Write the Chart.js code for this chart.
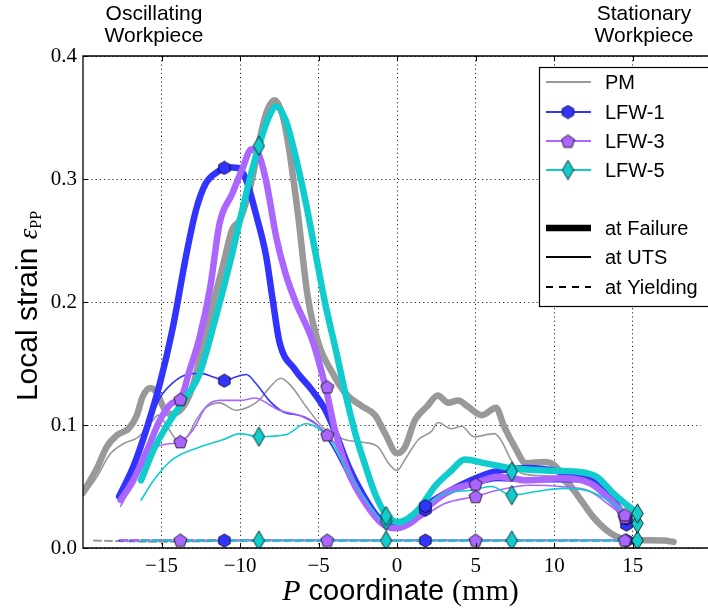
<!DOCTYPE html>
<html>
<head>
<meta charset="utf-8">
<script src="https://cdn.jsdelivr.net/npm/chart.js@4.4.0/dist/chart.umd.min.js"></script>
<style>
  html, body { margin: 0; padding: 0; background: #fff; }
  canvas { display: block; }
</style>
</head>
<body>
<canvas id="strain-chart" width="708" height="611"></canvas>
<script>
// axis ticks
const xTicks = [-15, -10, -5, 0, 5, 10, 15];
const yTicks = [0, 0.1, 0.2, 0.3, 0.4];

// PM (parent material)
const pmFailX = [-20.0, -19.1, -18.5, -17.8, -17.1, -16.6, -16.2, -15.7, -15.3, -14.9, -14.5, -13.8, -13.0, -12.4, -11.9, -11.1, -10.5, -10.0, -9.2, -8.8, -8.35, -7.8, -7.3, -6.9, -6.3, -5.7, -5.0, -4.1, -3.3, -2.2, -1.4, -0.76, 0, 0.5, 1.14, 1.9, 2.6, 3.25, 3.9, 4.5, 5.4, 6.3, 6.8, 7.5, 8.2, 9.4, 10.0, 10.8, 11.7, 12.5, 13.6, 14.6, 17.0, 17.6];
const pmFailY = [0.045, 0.065, 0.082, 0.092, 0.097, 0.107, 0.123, 0.130, 0.126, 0.115, 0.109, 0.112, 0.132, 0.163, 0.190, 0.229, 0.259, 0.267, 0.302, 0.329, 0.353, 0.364, 0.352, 0.326, 0.270, 0.205, 0.166, 0.142, 0.126, 0.115, 0.108, 0.093, 0.077, 0.082, 0.104, 0.115, 0.124, 0.118, 0.120, 0.115, 0.108, 0.114, 0.099, 0.082, 0.069, 0.070, 0.0675, 0.055, 0.039, 0.025, 0.012, 0.007, 0.006, 0.005];
const pmUtsX = [-20.0, -19.1, -18.3, -17.4, -16.5, -15.6, -15.2, -14.6, -14.0, -13.4, -12.8, -12.2, -11.3, -10.25, -9.4, -8.8, -8.15, -7.4, -6.7, -5.8, -4.56, -3.3, -2.2, -1.2, -0.55, 0, 0.5, 1.35, 2.2, 2.6, 3.46, 4.1, 4.9, 6.2, 6.6, 7.26, 7.9, 8.9, 10.0, 11.05, 12.1, 13.4, 14.6];
const pmUtsY = [0.042, 0.058, 0.076, 0.085, 0.090, 0.103, 0.108, 0.098, 0.088, 0.090, 0.104, 0.114, 0.118, 0.112, 0.115, 0.120, 0.130, 0.138, 0.131, 0.115, 0.096, 0.088, 0.086, 0.082, 0.069, 0.063, 0.072, 0.088, 0.095, 0.102, 0.097, 0.099, 0.0905, 0.093, 0.088, 0.0715, 0.061, 0.059, 0.058, 0.047, 0.031, 0.015, 0.008];
const pmYieldX = [-19.3, -15, -10, -5, 0, 5, 10, 15, 17.6];
const pmYieldY = [0.006, 0.005, 0.006, 0.006, 0.006, 0.006, 0.006, 0.006, 0.006];

// LFW-1
const lfw1FailX = [-17.7, -16.8, -15.9, -15.1, -14.3, -13.4, -12.8, -12.2, -11.3, -10.95, -10.1, -9.6, -9.0, -8.35, -7.9, -7.5, -6.5, -5.4, -4.56, -3.9, -3.08, -2.2, -1.2, -0.34, 0.5, 1.77, 3.0, 4.7, 6.2, 8.3, 10.4, 12.5, 13.6, 14.6];
const lfw1FailY = [0.042, 0.066, 0.099, 0.134, 0.178, 0.240, 0.275, 0.296, 0.307, 0.3095, 0.309, 0.299, 0.272, 0.238, 0.200, 0.168, 0.145, 0.128, 0.112, 0.093, 0.066, 0.044, 0.025, 0.020, 0.021, 0.034, 0.044, 0.055, 0.062, 0.065, 0.062, 0.055, 0.042, 0.023];
const lfw1UtsX = [-17.7, -16.8, -15.9, -15.1, -14.3, -13.4, -12.5, -11.7, -10.95, -10.3, -9.6, -9.0, -8.15, -7.3, -6.0, -5.0, -4.1, -3.1, -2.0, -0.97, 0.08, 1.35, 1.9, 3.0, 4.7, 6.4, 8.5, 10.6, 11.7, 13.2, 14.6];
const lfw1UtsY = [0.042, 0.066, 0.097, 0.122, 0.134, 0.141, 0.142, 0.139, 0.136, 0.139, 0.141, 0.134, 0.120, 0.111, 0.107, 0.099, 0.082, 0.058, 0.036, 0.023, 0.020, 0.028, 0.031, 0.042, 0.050, 0.055, 0.054, 0.054, 0.054, 0.044, 0.018];
const lfw1YieldX = [-17.7, -11, -5, 0, 5, 10, 14.6];
const lfw1YieldY = [0.006, 0.006, 0.006, 0.006, 0.006, 0.006, 0.006];

// LFW-3
const lfw3FailX = [-17.6, -16.8, -15.9, -15.1, -14.3, -13.8, -13.2, -12.6, -11.9, -11.3, -10.5, -9.8, -9.3, -8.9, -8.35, -7.7, -7.1, -6.46, -5.4, -4.56, -3.9, -3.08, -2.0, -0.97, -0.13, 0.93, 2.2, 3.46, 4.9, 6.4, 8.3, 10.4, 12.3, 13.6, 14.5];
const lfw3FailY = [0.039, 0.055, 0.080, 0.104, 0.118, 0.121, 0.145, 0.170, 0.212, 0.264, 0.288, 0.310, 0.324, 0.322, 0.299, 0.253, 0.223, 0.200, 0.169, 0.131, 0.093, 0.061, 0.036, 0.020, 0.016, 0.021, 0.036, 0.047, 0.0526, 0.058, 0.055, 0.0567, 0.0526, 0.039, 0.027];
const lfw3UtsX = [-17.6, -16.8, -15.9, -15.3, -14.9, -13.8, -13.0, -12.15, -11.3, -10.0, -9.0, -8.6, -7.5, -6.25, -5.0, -4.45, -3.7, -2.9, -1.8, -0.76, 0.08, 1.35, 3.0, 5.0, 6.4, 8.5, 10.4, 12.3, 13.6, 14.5];
const lfw3UtsY = [0.034, 0.053, 0.072, 0.082, 0.084, 0.0865, 0.096, 0.115, 0.120, 0.120, 0.122, 0.120, 0.112, 0.108, 0.099, 0.092, 0.080, 0.055, 0.031, 0.017, 0.0146, 0.023, 0.036, 0.042, 0.047, 0.051, 0.050, 0.046, 0.034, 0.025];
const lfw3YieldX = [-17.6, -13.8, -5, 0, 5, 10, 14.5];
const lfw3YieldY = [0.0065, 0.0065, 0.0065, 0.0065, 0.0065, 0.0065, 0.0065];

// LFW-5
const lfw5FailX = [-16.3, -15.5, -14.7, -13.6, -12.6, -11.6, -10.7, -10.0, -9.4, -8.8, -8.15, -7.7, -7.1, -6.46, -5.8, -5.2, -4.6, -3.9, -3.3, -2.66, -2.0, -1.4, -0.76, 0.08, 1.35, 2.4, 3.46, 4.3, 5.57, 7.26, 9.4, 11.5, 12.7, 13.8, 15.3];
const lfw5FailY = [0.055, 0.080, 0.0986, 0.120, 0.141, 0.185, 0.229, 0.267, 0.299, 0.327, 0.351, 0.359, 0.348, 0.318, 0.280, 0.240, 0.200, 0.161, 0.126, 0.093, 0.066, 0.044, 0.028, 0.021, 0.031, 0.050, 0.063, 0.072, 0.069, 0.065, 0.063, 0.062, 0.058, 0.044, 0.028];
const lfw5UtsX = [-16.3, -15.5, -14.3, -12.6, -11.1, -10.0, -8.8, -7.1, -5.8, -5.0, -4.1, -3.1, -2.0, -0.76, 0.5, 1.77, 3.0, 4.7, 6.0, 7.3, 8.9, 10.6, 12.3, 14.0, 15.3];
const lfw5UtsY = [0.039, 0.055, 0.072, 0.082, 0.088, 0.093, 0.0905, 0.092, 0.101, 0.097, 0.085, 0.061, 0.039, 0.022, 0.023, 0.034, 0.044, 0.047, 0.050, 0.043, 0.046, 0.0485, 0.046, 0.034, 0.020];
const lfw5YieldX = [-16.3, -8.8, -0.7, 5, 10, 15.3];
const lfw5YieldY = [0.006, 0.006, 0.006, 0.006, 0.006, 0.006];

// marker positions (every n-th sample in the original)
const lfw1MarkX = [-11.0, 1.8, 14.6];
const lfw1MarkFail = [0.309, 0.034, 0.024];
const lfw1MarkUts = [0.136, 0.031, 0.019];
const lfw1MarkYield = [0.006, 0.006, 0.006];
const lfw3MarkX = [-13.8, -4.45, 5.0, 14.5];
const lfw3MarkFail = [0.121, 0.131, 0.052, 0.027];
const lfw3MarkUts = [0.0865, 0.092, 0.042, 0.025];
const lfw3MarkYield = [0.0065, 0.0065, 0.0065, 0.0065];
const lfw5MarkX = [-8.8, -0.7, 7.3, 15.3];
const lfw5MarkFail = [0.327, 0.026, 0.062, 0.028];
const lfw5MarkUts = [0.0905, 0.022, 0.043, 0.020];
const lfw5MarkYield = [0.006, 0.006, 0.006, 0.006];

const GREY = '#999999', BLUE = '#3333ff', PURPLE = '#aa66ff', CYAN = '#11cccc';

function pts(xs, ys) { return xs.map((x, i) => ({ x, y: ys[i] })); }

// small marker images: hexagon, pentagon, thin diamond
function marker(shape, fill) {
  const c = document.createElement('canvas');
  let w = 15, h = 15;
  if (shape === 'd') { w = 13; h = 21; }
  c.width = w; c.height = h;
  const g = c.getContext('2d');
  const cx = w / 2, cy = h / 2;
  g.beginPath();
  if (shape === 'd') {
    g.moveTo(cx, 0.8); g.lineTo(w - 0.8, cy); g.lineTo(cx, h - 0.8); g.lineTo(0.8, cy);
  } else {
    const n = shape === 'h' ? 6 : 5;
    const r = shape === 'h' ? 6.6 : 6.9;
    const oy = shape === 'p' ? 0.7 : 0;
    for (let k = 0; k < n; k++) {
      const a = -Math.PI / 2 + k * 2 * Math.PI / n;
      const px = cx + r * Math.cos(a), py = cy + oy + r * Math.sin(a);
      if (k === 0) g.moveTo(px, py); else g.lineTo(px, py);
    }
  }
  g.closePath();
  g.fillStyle = fill; g.fill();
  g.lineWidth = 0.8; g.strokeStyle = '#000'; g.stroke();
  return c;
}
const hexM = marker('h', BLUE), pentM = marker('p', PURPLE), diaM = marker('d', CYAN);

const W_FAIL = 6.5, W_UTS = 1.6, W_YIELD = 2;
function lineDs(xs, ys, color, kind) {
  return {
    type: 'line',
    data: pts(xs, ys),
    borderColor: color,
    borderWidth: kind === 'fail' ? W_FAIL : kind === 'uts' ? W_UTS : W_YIELD,
    borderDash: kind === 'yield' ? [7, 4] : [],
    borderCapStyle: 'round',
    pointRadius: 0,
    cubicInterpolationMode: 'monotone',
    fill: false
  };
}
function markDs(xs, ys, img) {
  return {
    type: 'line', showLine: false, data: pts(xs, ys),
    pointStyle: img, pointRadius: 7, pointHoverRadius: 7, borderWidth: 0
  };
}

const datasets = [
  lineDs(pmFailX, pmFailY, GREY, 'fail'),
  lineDs(pmUtsX, pmUtsY, GREY, 'uts'),
  lineDs(pmYieldX, pmYieldY, GREY, 'yield'),
  lineDs(lfw1FailX, lfw1FailY, BLUE, 'fail'),
  lineDs(lfw1UtsX, lfw1UtsY, BLUE, 'uts'),
  lineDs(lfw1YieldX, lfw1YieldY, BLUE, 'yield'),
  lineDs(lfw3FailX, lfw3FailY, PURPLE, 'fail'),
  lineDs(lfw3UtsX, lfw3UtsY, PURPLE, 'uts'),
  lineDs(lfw3YieldX, lfw3YieldY, PURPLE, 'yield'),
  lineDs(lfw5FailX, lfw5FailY, CYAN, 'fail'),
  lineDs(lfw5UtsX, lfw5UtsY, CYAN, 'uts'),
  lineDs(lfw5YieldX, lfw5YieldY, CYAN, 'yield'),
  markDs(lfw1MarkX, lfw1MarkYield, hexM),
  markDs(lfw1MarkX, lfw1MarkUts, hexM),
  markDs(lfw1MarkX, lfw1MarkFail, hexM),
  markDs(lfw3MarkX, lfw3MarkYield, pentM),
  markDs(lfw3MarkX, lfw3MarkUts, pentM),
  markDs(lfw3MarkX, lfw3MarkFail, pentM),
  markDs(lfw5MarkX, lfw5MarkYield, diaM),
  markDs(lfw5MarkX, lfw5MarkUts, diaM),
  markDs(lfw5MarkX, lfw5MarkFail, diaM)
];
// later datasets on top, like matplotlib
datasets.forEach((d, i) => { d.order = 1000 - i; });

const SANS = '"Liberation Sans", Arial, sans-serif';
const SERIF = '"Liberation Serif", "Times New Roman", serif';

// frame, inward ticks, labels and legend
const decor = {
  id: 'decor',
  afterDraw(chart) {
    const ctx = chart.ctx;
    const a = chart.chartArea;
    const xs = chart.scales.x, ys = chart.scales.y;
    ctx.save();
    // frame
    ctx.strokeStyle = '#000'; ctx.lineWidth = 1.3; ctx.setLineDash([]);
    ctx.beginPath();
    ctx.moveTo(chart.width, a.top); ctx.lineTo(a.left, a.top);
    ctx.lineTo(a.left, a.bottom); ctx.lineTo(chart.width, a.bottom);
    ctx.stroke();
    // ticks pointing inside
    ctx.lineWidth = 1;
    ctx.beginPath();
    xTicks.forEach(v => {
      const px = Math.round(xs.getPixelForValue(v)) + 0.5;
      ctx.moveTo(px, a.bottom); ctx.lineTo(px, a.bottom - 5);
      ctx.moveTo(px, a.top); ctx.lineTo(px, a.top + 5);
    });
    yTicks.forEach(v => {
      const py = Math.round(ys.getPixelForValue(v)) + 0.5;
      ctx.moveTo(a.left, py); ctx.lineTo(a.left + 5, py);
    });
    ctx.stroke();

    // top annotations
    ctx.fillStyle = '#000';
    ctx.font = '21px ' + SANS;
    ctx.textAlign = 'center'; ctx.textBaseline = 'alphabetic';
    ctx.fillText('Oscillating', 154, 20);
    ctx.fillText('Workpiece', 154, 42);
    ctx.fillText('Stationary', 644, 20);
    ctx.fillText('Workpiece', 644, 42);

    // x axis title: P coordinate (mm)
    const xParts = [
      { t: 'P', f: 'italic 30px ' + SERIF },
      { t: ' coordinate ', f: '29px ' + SANS },
      { t: '(mm)', f: '30px ' + SERIF }
    ];
    let tw = 0;
    xParts.forEach(p => { ctx.font = p.f; p.w = ctx.measureText(p.t).width; tw += p.w; });
    let cx = (a.left + 718) / 2 - tw / 2;
    ctx.textAlign = 'left';
    xParts.forEach(p => { ctx.font = p.f; ctx.fillText(p.t, cx, 600); cx += p.w; });

    // y axis title: Local strain ε_PP
    ctx.save();
    ctx.translate(37, (a.top + a.bottom) / 2 + 4);
    ctx.rotate(-Math.PI / 2);
    const yParts = [
      { t: 'Local strain ', f: '30px ' + SANS, dy: 0 },
      { t: '\u03b5', f: 'italic 27px ' + SERIF, dy: 0 },
      { t: 'PP', f: '16px ' + SERIF, dy: 4 }
    ];
    tw = 0;
    yParts.forEach(p => { ctx.font = p.f; p.w = ctx.measureText(p.t).width; tw += p.w; });
    cx = -tw / 2;
    yParts.forEach(p => { ctx.font = p.f; ctx.fillText(p.t, cx, p.dy); cx += p.w; });
    ctx.restore();

    // legend
    const lx = 539.5, ly = 67.5;
    ctx.fillStyle = '#fff';
    ctx.fillRect(lx, ly, 200, 239);
    ctx.strokeStyle = '#000'; ctx.lineWidth = 1.2;
    ctx.strokeRect(lx, ly, 200, 239);
    const items = [
      { label: 'PM', color: GREY, w: 2, y: 82, m: null },
      { label: 'LFW-1', color: BLUE, w: 2, y: 112, m: hexM },
      { label: 'LFW-3', color: PURPLE, w: 2, y: 141, m: pentM },
      { label: 'LFW-5', color: CYAN, w: 2, y: 170, m: diaM },
      { label: 'at Failure', color: '#000', w: W_FAIL, y: 228, m: null },
      { label: 'at UTS', color: '#000', w: W_UTS + 0.4, y: 257, m: null },
      { label: 'at Yielding', color: '#000', w: W_YIELD, y: 287, m: null, dash: [7, 6] }
    ];
    ctx.font = '20px ' + SANS;
    ctx.textBaseline = 'middle'; ctx.textAlign = 'left';
    items.forEach(it => {
      ctx.strokeStyle = it.color; ctx.lineWidth = it.w;
      ctx.setLineDash(it.dash || []);
      ctx.beginPath(); ctx.moveTo(546, it.y); ctx.lineTo(591, it.y); ctx.stroke();
      ctx.setLineDash([]);
      if (it.m) ctx.drawImage(it.m, 568 - it.m.width / 2, it.y - it.m.height / 2);
      ctx.fillStyle = '#000';
      ctx.fillText(it.label, 605, it.y + 1);
    });
    ctx.restore();
  }
};

new Chart(document.getElementById('strain-chart'), {
  type: 'line',
  data: { datasets },
  options: {
    responsive: false,
    animation: false,
    devicePixelRatio: 1,
    layout: { padding: { left: 0, right: 0, top: 56, bottom: 0 } },
    plugins: { legend: { display: false }, tooltip: { enabled: false } },
    scales: {
      x: {
        type: 'linear', min: -20, max: 19.35,
        afterBuildTicks: s => { s.ticks = xTicks.map(v => ({ value: v })); },
        afterFit: s => { s.height = 63; },
        grid: { color: 'rgba(0,0,0,0.85)', lineWidth: 1, drawTicks: false },
        border: { display: false, dash: [1.2, 3] },
        ticks: {
          padding: 6, color: '#000',
          font: { family: 'Liberation Serif', size: 21 },
          callback: v => (v < 0 ? '\u2212' + Math.abs(v) : String(v))
        }
      },
      y: {
        type: 'linear', min: 0, max: 0.4,
        afterBuildTicks: s => { s.ticks = yTicks.map(v => ({ value: v })); },
        afterFit: s => { s.width = 83; },
        grid: { color: 'rgba(0,0,0,0.85)', lineWidth: 1, drawTicks: false },
        border: { display: false, dash: [1.2, 3] },
        ticks: {
          padding: 6, color: '#000',
          font: { family: 'Liberation Serif', size: 21 },
          callback: v => v.toFixed(1)
        }
      }
    }
  },
  plugins: [decor]
});
</script>
</body>
</html>
